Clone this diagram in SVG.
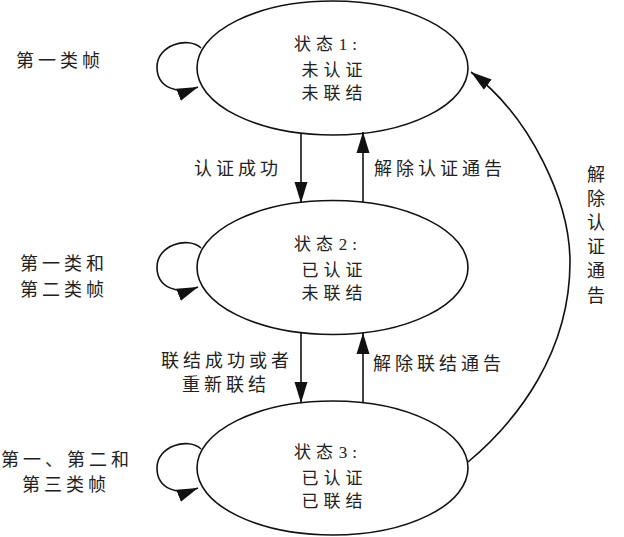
<svg xmlns="http://www.w3.org/2000/svg" width="624" height="537" viewBox="0 0 624 537">
<style>
.st{fill:none;stroke:#111;stroke-width:1.6}
.ln{fill:none;stroke:#111;stroke-width:1.6;marker-end:url(#ah)}
text{font-family:"Liberation Serif","Noto Sans CJK SC",serif;fill:#222}
.nt{font-size:17px;letter-spacing:5px}
.hd{word-spacing:-8.5px}
.lb{font-size:18px;letter-spacing:4px}
</style>
<defs>
<marker id="ah" markerUnits="userSpaceOnUse" markerWidth="22" markerHeight="14" viewBox="0 0 22 14" refX="21" refY="7" orient="auto">
<path d="M0,0.5 L21,7 L0,13.5 z" fill="#111"/>
</marker>
</defs>
<rect width="624" height="537" fill="#fff"/>
<g id="state1">
<ellipse class="st" cx="332.5" cy="68" rx="135.5" ry="67"/>
<text class="nt hd" x="294" y="50">状态 1:</text>
<text class="nt" x="301.5" y="75.5">未认证</text>
<text class="nt" x="301.5" y="99">未联结</text>
</g>
<g id="state2">
<ellipse class="st" cx="332.5" cy="267.5" rx="135.5" ry="67"/>
<text class="nt hd" x="294" y="250">状态 2:</text>
<text class="nt" x="301.5" y="276">已认证</text>
<text class="nt" x="301.5" y="299">未联结</text>
</g>
<g id="state3">
<ellipse class="st" cx="332.5" cy="468" rx="135.5" ry="67"/>
<text class="nt hd" x="294" y="458">状态 3:</text>
<text class="nt" x="301.5" y="483.5">已认证</text>
<text class="nt" x="301.5" y="506.5">已联结</text>
</g>
<g id="connectors">
<path class="ln" d="M201 48 C188 36,157 45,157 67 C157 88,178 95,198 87"/>
<path class="ln" transform="translate(0,200)" d="M201 48 C188 36,157 45,157 67 C157 88,178 95,198 87"/>
<path class="ln" transform="translate(0,401)" d="M201 48 C188 36,157 45,157 67 C157 88,178 95,198 87"/>
<path class="ln" d="M301 133 L301 203"/>
<path class="ln" d="M363 202 L363 132"/>
<path class="ln" d="M301 333 L301 403"/>
<path class="ln" d="M363 402 L363 333"/>
<path class="ln" d="M468 462 C518 420,570 352,570 262 C570 202,531 117,471 72"/>
</g>
<g id="labels">
<text class="lb" x="16" y="67">第一类帧</text>
<text class="lb" x="20" y="270">第一类和</text>
<text class="lb" x="20" y="296">第二类帧</text>
<text class="lb" x="1" y="466">第一、第二和</text>
<text class="lb" x="22" y="491">第三类帧</text>
<text class="lb" x="194" y="175">认证成功</text>
<text class="lb" x="374" y="175">解除认证通告</text>
<text class="lb" x="161" y="366.5">联结成功或者</text>
<text class="lb" x="182" y="390.5">重新联结</text>
<text class="lb" x="373" y="369.5">解除联结通告</text>
<text class="lb" text-anchor="middle" style="letter-spacing:0">
<tspan x="596" y="180.5">解</tspan><tspan x="596" dy="24.2">除</tspan><tspan x="596" dy="24.2">认</tspan><tspan x="596" dy="24.2">证</tspan><tspan x="596" dy="24.2">通</tspan><tspan x="596" dy="24.2">告</tspan>
</text>
</g>
</svg>
